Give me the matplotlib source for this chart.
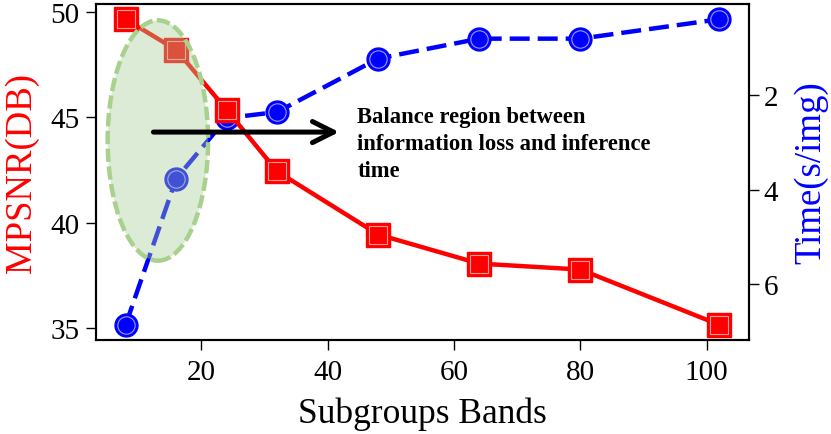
import matplotlib.pyplot as plt
from matplotlib.patches import Ellipse

# Data
bands = [8, 16, 24, 32, 48, 64, 80, 102]
mpsnr = [49.65, 48.2, 45.35, 42.43, 39.44, 38.06, 37.78, 35.16]
time_per_img = [6.86, 3.77, 2.49, 2.36, 1.23, 0.81, 0.81, 0.40]

note = "Balance region between\ninformation loss and inference\ntime"

plt.rcParams['font.family'] = ['Liberation Serif', 'DejaVu Serif']

fig = plt.figure(figsize=(8.31, 4.35), dpi=100)
ax = fig.add_axes([0.1155, 0.216, 0.7858, 0.7725])
ax2 = ax.twinx()

# red MPSNR line with squares
ax.plot(bands, mpsnr, '-', color='red', lw=3.2, zorder=2)
ax.plot(bands, mpsnr, 's', ms=17, color='red', zorder=3)
ax.plot(bands, mpsnr, 's', ms=13, mfc='red', mec='#ff9a9a', mew=0.8, zorder=4)

# blue time line with circles
ax2.plot(bands, time_per_img, '--', color='blue', lw=3.2, dashes=(4.5, 1.8), zorder=2)
ax2.plot(bands, time_per_img, 'o', ms=16.5, color='blue', zorder=3)
ax2.plot(bands, time_per_img, 'o', ms=12.5, mfc='blue', mec='#9a9aff', mew=0.8, zorder=4)
ax2.invert_yaxis()

# put left axes above the twin so the ellipse covers both series
ax.set_zorder(ax2.get_zorder() + 1)
ax.patch.set_visible(False)

# highlighted region (drawn on top with transparency)
ell = Ellipse((13.1, 43.9), 15.9, 11.4, facecolor='#a5cd98', alpha=0.4,
              edgecolor='none', zorder=10)
ell_edge = Ellipse((13.1, 43.9), 15.9, 11.4, facecolor='none',
                   edgecolor='#a9d18e', lw=3.2, ls=(0, (3, 1)), zorder=11)
ax.add_patch(ell)
ax.add_patch(ell_edge)

ax.annotate('', xy=(41.8, 44.3), xytext=(12.4, 44.3),
            arrowprops=dict(arrowstyle='->', color='black', lw=3.6,
                            mutation_scale=38, shrinkA=0, shrinkB=0), zorder=12)
ax.text(44.7, 45.55, note, fontsize=16.3, fontweight='bold',
        va='top', ha='left', linespacing=1.38, zorder=12)

ax.set_xticks([20, 40, 60, 80, 100])
ax.set_yticks([35, 40, 45, 50])
ax2.set_yticks([2, 4, 6])

ax.set_xlabel('Subgroups Bands', fontsize=25.5, labelpad=8)
ax.set_ylabel('MPSNR(DB)', fontsize=26.5, color='red', labelpad=8)
ax2.set_ylabel('Time(s/img)', fontsize=26.5, color='blue', labelpad=11)

for a in (ax, ax2):
    a.tick_params(labelsize=21, length=7, width=1)
    for s in a.spines.values():
        s.set_linewidth(1.5)
ax.tick_params(axis='x', pad=7)
ax.tick_params(axis='y', pad=5)

fig.savefig('out.png', dpi=100)
